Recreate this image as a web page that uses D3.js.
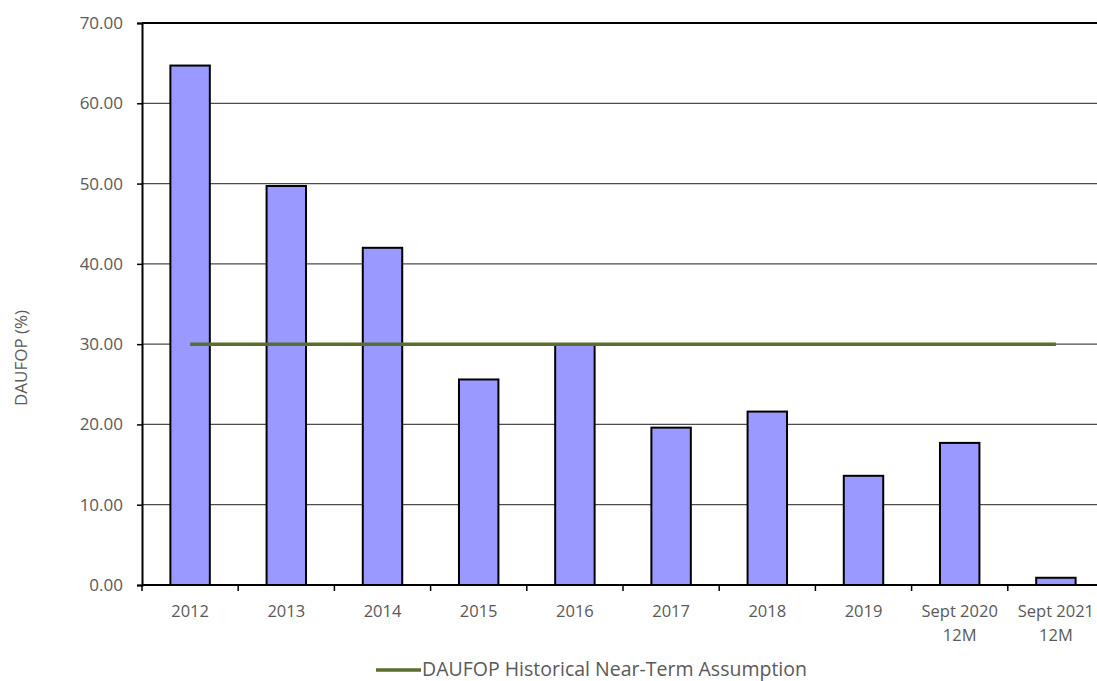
<!DOCTYPE html>
<html>
<head>
<meta charset="utf-8">
<script src="https://cdn.jsdelivr.net/npm/d3@7"></script>
<style>
  html, body { margin: 0; padding: 0; background: #fff; }
  svg { display: block; font-family: "Open Sans", sans-serif; }
</style>
</head>
<body>
<svg id="chart" width="1097" height="681"></svg>
<script>
// Periods shown on the category axis (multi-line labels split on "\n")
const categories = ["2012", "2013", "2014", "2015", "2016", "2017", "2018", "2019", "Sept 2020\n12M", "Sept 2021\n12M"];
// DAUFOP per period, %
const daufop = [64.7, 49.7, 42.0, 25.6, 29.9, 19.6, 21.6, 13.6, 17.7, 0.9];
// Historical near-term assumption, %
const assumption = [30, 30, 30, 30, 30, 30, 30, 30, 30, 30];
const yTicks = [0, 10, 20, 30, 40, 50, 60, 70];
const legendLabel = "DAUFOP Historical Near-Term Assumption";
const yTitle = "DAUFOP (%)";

const svg = d3.select("#chart");
const plotLeft = 142, plotRight = 1104, plotTop = 23, plotBottom = 585;

const x = d3.scaleBand().domain(categories).range([plotLeft, plotRight]).paddingInner(0.59).paddingOuter(0.295);
const y = d3.scaleLinear().domain([0, 70]).range([plotBottom, plotTop]);

// horizontal gridlines
svg.append("g")
  .selectAll("line")
  .data(yTicks.filter(t => t > 0 && t < 70))
  .join("line")
  .attr("x1", plotLeft).attr("x2", plotRight)
  .attr("y1", d => y(d)).attr("y2", d => y(d))
  .attr("stroke", "#4d4d4d").attr("stroke-width", 1.2);

// top frame line
svg.append("line")
  .attr("x1", plotLeft).attr("x2", plotRight)
  .attr("y1", y(70)).attr("y2", y(70))
  .attr("stroke", "#000").attr("stroke-width", 2);

// bars
svg.append("g")
  .selectAll("rect")
  .data(categories)
  .join("rect")
  .attr("x", d => x(d))
  .attr("width", x.bandwidth())
  .attr("y", (d, i) => y(daufop[i]))
  .attr("height", (d, i) => y(0) - y(daufop[i]))
  .attr("fill", "#9999ff")
  .attr("stroke", "#000")
  .attr("stroke-width", 2);

// y axis
const yAxis = svg.append("g")
  .attr("transform", `translate(${plotLeft},0)`)
  .call(d3.axisLeft(y).tickValues(yTicks).tickFormat(d3.format(".2f")).tickSize(5).tickPadding(14));
yAxis.select(".domain").attr("stroke", "#000").attr("stroke-width", 2);
yAxis.selectAll(".tick line").attr("stroke", "#000").attr("stroke-width", 1.5);
yAxis.selectAll("text").attr("font-size", 17).attr("fill", "#595959")
  .attr("font-family", "Open Sans, sans-serif");

// x axis: ticks on category boundaries
const xBase = svg.append("g");
xBase.append("line")
  .attr("x1", plotLeft).attr("x2", plotRight)
  .attr("y1", plotBottom).attr("y2", plotBottom)
  .attr("stroke", "#000").attr("stroke-width", 2);
const step = x.step();
xBase.selectAll("line.tk")
  .data(d3.range(categories.length + 1))
  .join("line")
  .attr("class", "tk")
  .attr("x1", i => plotLeft + i * step).attr("x2", i => plotLeft + i * step)
  .attr("y1", plotBottom).attr("y2", plotBottom + 6)
  .attr("stroke", "#000").attr("stroke-width", 1.5);

const labels = svg.append("g")
  .selectAll("text")
  .data(categories)
  .join("text")
  .attr("x", d => x(d) + x.bandwidth() / 2)
  .attr("y", 617)
  .attr("text-anchor", "middle")
  .attr("font-size", 16.5)
  .attr("fill", "#595959");
labels.each(function (d) {
  const parts = d.split("\n");
  d3.select(this).selectAll("tspan")
    .data(parts)
    .join("tspan")
    .attr("x", x(d) + x.bandwidth() / 2)
    .attr("dy", (p, j) => j === 0 ? 0 : 24)
    .text(p => p);
});

// assumption line across band centres
const line = d3.line()
  .x((d, i) => x(categories[i]) + x.bandwidth() / 2)
  .y(d => y(d));
svg.append("path")
  .datum(assumption)
  .attr("d", line)
  .attr("fill", "none")
  .attr("stroke", "#5a6e2e")
  .attr("stroke-width", 3.5);

// y axis title
svg.append("text")
  .attr("transform", "translate(27,358) rotate(-90)")
  .attr("text-anchor", "middle")
  .attr("font-size", 17)
  .attr("fill", "#595959")
  .text(yTitle);

// legend
const lg = svg.append("g");
lg.append("line")
  .attr("x1", 376).attr("x2", 421)
  .attr("y1", 670).attr("y2", 670)
  .attr("stroke", "#5a6e2e").attr("stroke-width", 3.5);
lg.append("text")
  .attr("x", 422).attr("y", 676)
  .attr("font-size", 19.5)
  .attr("fill", "#595959")
  .text(legendLabel);
</script>
</body>
</html>
